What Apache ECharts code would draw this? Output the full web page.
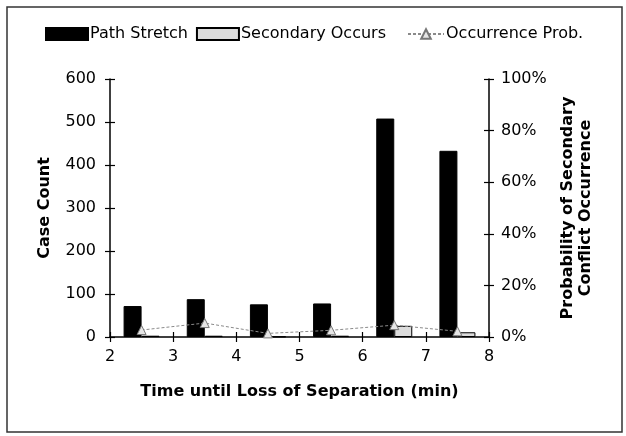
<!DOCTYPE html>
<html>
<head>
<meta charset="utf-8">
<script src="https://cdn.jsdelivr.net/npm/echarts@6/dist/echarts.min.js"></script>
<style>
  html, body { margin: 0; padding: 0; background: #fff; }
  #chart { width: 626px; height: 436px; }
</style>
</head>
<body>
<div id="chart"></div>
<script>
// bins: start of each one-minute interval
const binStarts = [2, 3, 4, 5, 6, 7]
const pathStretch = [72, 88, 76, 78, 508, 433]
const secondaryOccurs = [3, 3, 1, 3, 26, 11]
const occurrenceProb = [2.7, 5.4, 1.4, 2.6, 4.6, 2.2]

// the picture is a bit wide, DejaVu Sans fits its text widths better than Arial
const font = 'DejaVu Sans, Liberation Sans, sans-serif'

// bars sit in the middle of each bin
let toPoints = (values) => values.map((v, i) => [binStarts[i] + 0.5, v])

let chart = echarts.init(document.getElementById('chart'))

let axisLine = { show: true, lineStyle: { color: '#000', width: 1.5 } }
let tickOut = { show: true, inside: false, length: 5, lineStyle: { color: '#000', width: 1.2 } }
let tickIn = { show: true, inside: true, length: 5, lineStyle: { color: '#000', width: 1.2 } }
let legendText = { fontSize: 16, color: '#000', fontFamily: font, padding: [0, 0, 0, -3] }

let option = {
    animation: false,
    textStyle: { fontFamily: font },
    graphic: [
        {
            type: 'rect',
            shape: { x: 7, y: 7, width: 615, height: 425 },
            style: { fill: 'none', stroke: '#333', lineWidth: 1.5 }
        }
    ],
    legend: [
        {
            data: ['Path Stretch', 'Secondary Occurs'],
            icon: 'rect',
            left: 40,
            top: 21,
            itemWidth: 42,
            itemHeight: 12,
            itemGap: 8,
            textStyle: legendText
        },
        {
            data: ['Occurrence Prob.'],
            left: 402,
            top: 21,
            itemWidth: 36,
            itemHeight: 12,
            textStyle: legendText
        }
    ],
    grid: { left: 110, right: 137, top: 79, bottom: 99 },
    xAxis: [
        {
            type: 'value',
            min: 2,
            max: 8,
            interval: 1,
            name: 'Time until Loss of Separation (min)',
            nameLocation: 'middle',
            nameGap: 47,
            nameTextStyle: { fontSize: 16, fontWeight: 'bold', color: '#000', fontFamily: font },
            axisLine: axisLine,
            axisTick: tickOut,
            axisLabel: { fontSize: 16, color: '#000', margin: 12, fontFamily: font },
            splitLine: { show: false }
        },
        {
            type: 'value',
            position: 'bottom',
            min: 2,
            max: 8,
            interval: 1,
            axisLine: { show: false },
            axisTick: tickIn,
            axisLabel: { show: false },
            splitLine: { show: false }
        }
    ],
    yAxis: [
        {
            type: 'value',
            min: 0,
            max: 600,
            interval: 100,
            position: 'left',
            name: 'Case Count',
            nameLocation: 'middle',
            nameRotate: 90,
            nameGap: 57,
            nameTextStyle: { fontSize: 16, fontWeight: 'bold', color: '#000', fontFamily: font },
            axisLine: axisLine,
            axisTick: tickOut,
            axisLabel: { fontSize: 16, color: '#000', margin: 14, fontFamily: font },
            splitLine: { show: false }
        },
        {
            type: 'value',
            min: 0,
            max: 100,
            interval: 20,
            position: 'right',
            name: 'Probability of Secondary\nConflict Occurrence',
            nameLocation: 'middle',
            nameRotate: 90,
            nameGap: 70,
            nameTextStyle: { fontSize: 16, fontWeight: 'bold', color: '#000', fontFamily: font, lineHeight: 18 },
            axisLine: axisLine,
            axisTick: tickOut,
            axisLabel: { fontSize: 16, color: '#000', margin: 12, formatter: '{value}%', fontFamily: font },
            splitLine: { show: false }
        },
        {
            type: 'value',
            min: 0,
            max: 600,
            interval: 100,
            position: 'left',
            axisLine: { show: false },
            axisTick: tickIn,
            axisLabel: { show: false },
            splitLine: { show: false }
        },
        {
            type: 'value',
            min: 0,
            max: 100,
            interval: 20,
            position: 'right',
            axisLine: { show: false },
            axisTick: tickIn,
            axisLabel: { show: false },
            splitLine: { show: false }
        }
    ],
    series: [
        {
            name: 'Path Stretch',
            type: 'bar',
            yAxisIndex: 0,
            barWidth: 18,
            barGap: '0%',
            itemStyle: { color: '#000', borderColor: '#000', borderWidth: 1 },
            data: toPoints(pathStretch)
        },
        {
            name: 'Secondary Occurs',
            type: 'bar',
            yAxisIndex: 0,
            barWidth: 18,
            barGap: '0%',
            itemStyle: { color: '#dcdcdc', borderColor: '#000', borderWidth: 1 },
            data: toPoints(secondaryOccurs)
        },
        {
            name: 'Occurrence Prob.',
            type: 'line',
            yAxisIndex: 1,
            symbol: 'triangle',
            symbolSize: 9,
            z: 5,
            lineStyle: { color: '#8a8a8a', width: 1, type: [3, 2] },
            itemStyle: { color: '#e6e6e6', borderColor: '#777', borderWidth: 1 },
            data: toPoints(occurrenceProb)
        }
    ]
}

chart.setOption(option)
</script>
</body>
</html>
